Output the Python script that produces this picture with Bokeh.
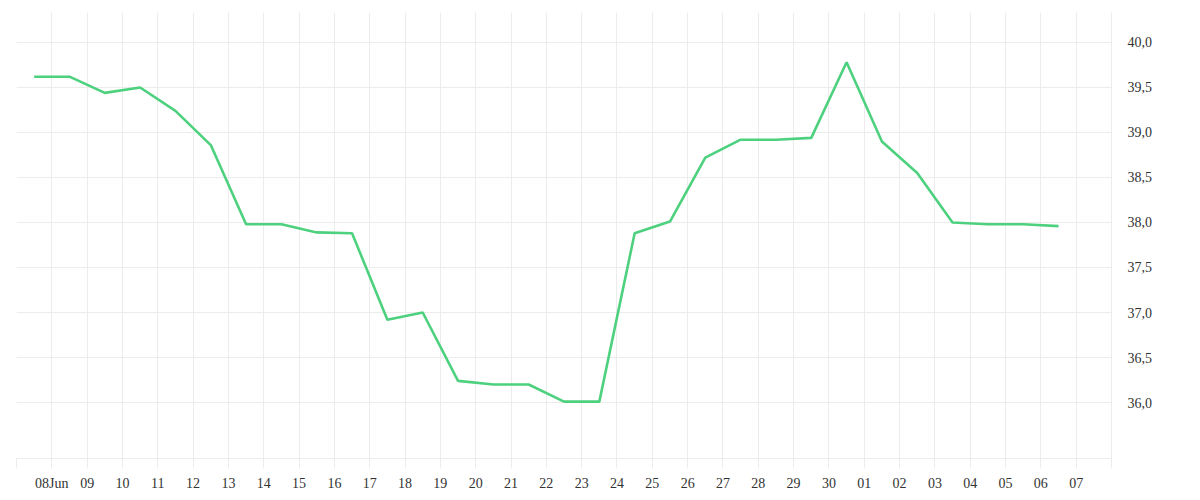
from datetime import datetime, timedelta
from bokeh.plotting import figure
from bokeh.models import (ColumnDataSource, Range1d, FixedTicker, LinearAxis,
                          CustomJSTickFormatter)
from bokeh.embed import file_html
from bokeh.resources import INLINE

# ---- data ----
dates = ["2024-06-07 12:00", "2024-06-08 12:00", "2024-06-09 12:00", "2024-06-10 12:00",
         "2024-06-11 12:00", "2024-06-12 12:00", "2024-06-13 12:00", "2024-06-14 12:00",
         "2024-06-15 12:00", "2024-06-16 12:00", "2024-06-17 12:00", "2024-06-18 12:00",
         "2024-06-19 12:00", "2024-06-20 12:00", "2024-06-21 12:00", "2024-06-22 12:00",
         "2024-06-23 12:00", "2024-06-24 12:00", "2024-06-25 12:00", "2024-06-26 12:00",
         "2024-06-27 12:00", "2024-06-28 12:00", "2024-06-29 12:00", "2024-06-30 12:00",
         "2024-07-01 12:00", "2024-07-02 12:00", "2024-07-03 12:00", "2024-07-04 12:00",
         "2024-07-05 12:00", "2024-07-06 12:00"]
values = [39.62, 39.62, 39.44, 39.50, 39.24, 38.86, 37.98, 37.98, 37.89, 37.88,
          36.92, 37.00, 36.24, 36.20, 36.20, 36.01, 36.01, 37.88, 38.01, 38.72,
          38.92, 38.92, 38.94, 39.78, 38.90, 38.55, 38.00, 37.98, 37.98, 37.96]
tick_days = ["2024-06-07", "2024-06-08", "2024-06-09", "2024-06-10", "2024-06-11",
             "2024-06-12", "2024-06-13", "2024-06-14", "2024-06-15", "2024-06-16",
             "2024-06-17", "2024-06-18", "2024-06-19", "2024-06-20", "2024-06-21",
             "2024-06-22", "2024-06-23", "2024-06-24", "2024-06-25", "2024-06-26",
             "2024-06-27", "2024-06-28", "2024-06-29", "2024-06-30", "2024-07-01",
             "2024-07-02", "2024-07-03", "2024-07-04", "2024-07-05", "2024-07-06",
             "2024-07-07", "2024-07-08"]
tick_labels = ["", "08Jun", "09", "10", "11", "12", "13", "14", "15", "16", "17", "18",
               "19", "20", "21", "22", "23", "24", "25", "26", "27", "28", "29", "30",
               "01", "02", "03", "04", "05", "06", "07", ""]
y_ticks = [36.0, 36.5, 37.0, 37.5, 38.0, 38.5, 39.0, 39.5, 40.0]

# ---- build ----
EPOCH = datetime(1970, 1, 1)
def to_ms(d):
    return (d - EPOCH) / timedelta(milliseconds=1)

x = [datetime.strptime(d, "%Y-%m-%d %H:%M") for d in dates]
tick_dt = [datetime.strptime(d, "%Y-%m-%d") for d in tick_days]
tick_ms = [to_ms(d) for d in tick_dt]

src = ColumnDataSource(data=dict(x=x, y=values))

GRID = "#ececec"
FONT = "Liberation Serif"
TXT = "#333333"

p = figure(x_axis_type="datetime", output_backend="svg", toolbar_location=None,
           frame_width=1095, frame_height=446,
           min_border_left=16, min_border_top=12, min_border_right=60, min_border_bottom=0,
           x_range=Range1d(tick_dt[0], tick_dt[-1]),
           y_range=Range1d(35.378, 40.333),
           y_axis_location=None)
p.outline_line_color = None
p.background_fill_color = "white"
p.border_fill_color = "white"

p.line("x", "y", source=src, line_color="#4ed17e", line_width=2.6)

# x axis
xa = p.xaxis[0]
xa.ticker = FixedTicker(ticks=tick_ms)
xa.major_label_overrides = {ms: lab for ms, lab in zip(tick_ms, tick_labels)}
xa.axis_line_color = GRID
xa.major_tick_line_color = GRID
xa.major_tick_out = 10
xa.major_tick_in = 0
xa.minor_tick_line_color = None
xa.major_label_standoff = 7
xa.major_label_text_font = FONT
xa.major_label_text_font_size = "14px"
xa.major_label_text_color = TXT

# right y axis
ya = LinearAxis(ticker=FixedTicker(ticks=y_ticks),
                formatter=CustomJSTickFormatter(code="return tick.toFixed(1).replace('.', ',');"))
ya.axis_line_color = GRID
ya.major_tick_line_color = None
ya.minor_tick_line_color = None
ya.major_tick_out = 0
ya.major_tick_in = 0
ya.major_label_standoff = 16
ya.major_label_text_font = FONT
ya.major_label_text_font_size = "14px"
ya.major_label_text_color = TXT
p.add_layout(ya, "right")

p.xgrid.ticker = FixedTicker(ticks=tick_ms)
p.xgrid.grid_line_color = GRID
p.ygrid.grid_line_color = GRID
p.ygrid.ticker = FixedTicker(ticks=y_ticks)

open("out.html", "w").write(file_html(p, INLINE))
